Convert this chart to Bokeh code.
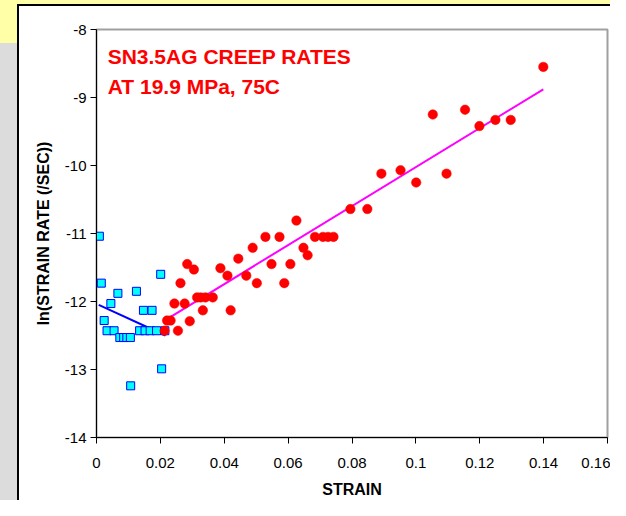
from bokeh.plotting import figure
from bokeh.models import Range1d, FixedTicker, Label
from bokeh.embed import file_html
from bokeh.resources import INLINE

# ---- data ----
red_strain = [0.0213, 0.0221, 0.0232, 0.0244, 0.0255, 0.0263, 0.0276, 0.0284, 0.0292,
              0.0305, 0.0315, 0.0326, 0.0333, 0.0341, 0.0364, 0.0388, 0.0410, 0.0420,
              0.0444, 0.0469, 0.0489, 0.0502, 0.0529, 0.0548, 0.0573, 0.0588, 0.0607,
              0.0626, 0.0648, 0.0661, 0.0684, 0.0709, 0.0725, 0.0742, 0.0795, 0.0848,
              0.0892, 0.0952, 0.1001, 0.1053, 0.1096, 0.1154, 0.1199, 0.1249, 0.1297,
              0.1399]
red_lnrate = [-12.43, -12.28, -12.28, -12.03, -12.43, -11.73, -12.03, -11.45, -12.29,
              -11.53, -11.94, -11.94, -12.13, -11.94, -11.94, -11.51, -11.62, -12.13,
              -11.37, -11.62, -11.21, -11.73, -11.05, -11.45, -11.05, -11.73, -11.45,
              -10.81, -11.21, -11.32, -11.05, -11.05, -11.05, -11.05, -10.64, -10.64,
              -10.12, -10.07, -10.25, -9.25, -10.12, -9.18, -9.42, -9.33, -9.33,
              -8.55]

blue_strain = [0.0009, 0.0015, 0.0024, 0.0033, 0.0045, 0.0055, 0.0067, 0.0073, 0.0085,
               0.0095, 0.0106, 0.0107, 0.0125, 0.0135, 0.0147, 0.0152, 0.0168, 0.0174,
               0.0188, 0.0201, 0.0204, 0.0214]
blue_lnrate = [-11.04, -11.73, -12.28, -12.43, -12.03, -12.43, -11.88, -12.53, -12.53,
               -12.53, -12.53, -13.24, -11.85, -12.43, -12.13, -12.43, -12.43, -12.13,
               -12.43, -11.60, -12.99, -12.43]

red_trend_x = [0.0213, 0.1399]
red_trend_y = [-12.28, -8.88]
blue_trend_x = [0.0007, 0.0216]
blue_trend_y = [-12.05, -12.50]

x_ticks = [0, 0.02, 0.04, 0.06, 0.08, 0.1, 0.12, 0.14, 0.16]
x_tick_labels = ["0", "0.02", "0.04", "0.06", "0.08", "0.1", "0.12", "0.14", "0.16"]
y_ticks = [-14, -13, -12, -11, -10, -9, -8]
y_tick_labels = ["-14", "-13", "-12", "-11", "-10", "-9", "-8"]

title_lines = ["SN3.5AG CREEP RATES", "AT 19.9 MPa, 75C"]

FONT = "Liberation Sans"

p = figure(width=610, height=500, output_backend="svg", toolbar_location=None,
           x_range=Range1d(0, 0.16), y_range=Range1d(-14, -8),
           min_border_left=96, min_border_right=3, min_border_top=29, min_border_bottom=62)

p.border_fill_color = None
p.styles = {"background": "linear-gradient(#fff,#fff) 19px 6px / 100% 100% no-repeat, "
                          "linear-gradient(#000,#000) 17px 4px / 100% 100% no-repeat, "
                          "linear-gradient(to bottom, #ffffa8 43px, #dcdcdc 43px)"}
p.background_fill_color = "white"
p.outline_line_color = "#a0a0a0"
p.outline_line_width = 2
p.grid.visible = False

for ax in (p.xaxis[0], p.yaxis[0]):
    ax.axis_line_color = "black"
    ax.axis_line_width = 1
    ax.major_tick_line_color = "black"
    ax.major_tick_out = 6
    ax.major_tick_in = 0
    ax.minor_tick_line_color = None
    ax.major_label_text_font = FONT
    ax.major_label_text_font_size = "15px"
    ax.major_label_text_color = "black"
    ax.axis_label_text_font = FONT
    ax.axis_label_text_font_size = "16px"
    ax.axis_label_text_font_style = "bold"
    ax.axis_label_text_color = "black"

p.xaxis.ticker = FixedTicker(ticks=x_ticks)
p.yaxis.ticker = FixedTicker(ticks=y_ticks)
p.xaxis.major_label_overrides = {t: l for t, l in zip(x_ticks, x_tick_labels)}
p.yaxis.major_label_overrides = {t: l for t, l in zip(y_ticks, y_tick_labels)}
p.xaxis.axis_label = "STRAIN"
p.yaxis.axis_label = "ln(STRAIN RATE (/SEC))"
p.xaxis.major_label_standoff = 14
p.yaxis.major_label_standoff = 4
p.xaxis.axis_label_standoff = 10
p.yaxis.axis_label_standoff = 10

p.line(blue_trend_x, blue_trend_y, line_color="#0000ff", line_width=2)
p.scatter(blue_strain, blue_lnrate, marker="square", size=8,
          fill_color="#00ffff", line_color="#0000ff", line_width=1)
p.line(red_trend_x, red_trend_y, line_color="#ff00ff", line_width=2)
p.scatter(red_strain, red_lnrate, marker="circle", size=9.5,
          fill_color="#ff0000", line_color="#ff0000", line_width=0.5)

for txt, yv in zip(title_lines, [-8.235, -8.675]):
    p.add_layout(Label(x=0.0035, y=yv, text=txt, text_font=FONT, text_font_size="21px",
                       text_font_style="bold", text_color="#ff0000", text_baseline="top"))

open("out.html", "w").write(file_html(p, INLINE))
